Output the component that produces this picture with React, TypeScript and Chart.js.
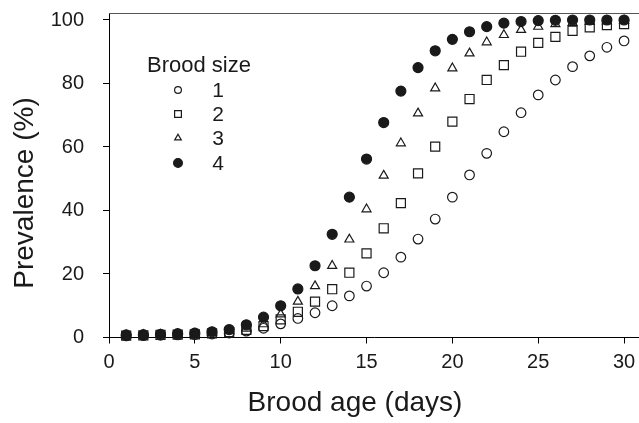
import React, { useEffect, useRef } from 'react';
import { Chart, registerables } from 'chart.js';

Chart.register(...registerables);

const days = [1, 2, 3, 4, 5, 6, 7, 8, 9, 10, 11, 12, 13, 14, 15, 16, 17, 18, 19, 20, 21, 22, 23, 24, 25, 26, 27, 28, 29, 30];

const brood1 = [0.5, 0.6, 0.7, 0.8, 0.9, 1.1, 1.4, 2.0, 2.9, 4.3, 6.0, 7.8, 10.0, 13.1, 16.2, 20.4, 25.3, 31.0, 37.3, 44.2, 51.2, 58.0, 64.8, 70.8, 76.4, 81.1, 85.3, 88.7, 91.4, 93.4];
const brood2 = [0.6, 0.7, 0.8, 0.9, 1.0, 1.3, 1.7, 2.4, 3.6, 5.7, 8.1, 11.3, 15.2, 20.4, 26.5, 34.4, 42.3, 51.7, 60.1, 68.0, 75.1, 81.1, 85.8, 90.0, 92.8, 94.7, 96.6, 97.7, 98.4, 98.7];
const brood3 = [0.7, 0.8, 0.9, 1.0, 1.2, 1.5, 2.0, 2.8, 4.2, 7.3, 11.3, 16.2, 22.6, 30.9, 40.4, 51.0, 61.2, 70.6, 78.5, 84.8, 89.5, 93.0, 95.3, 96.9, 97.9, 98.7, 99.1, 99.4, 99.6, 99.8];
const brood4 = [0.8, 0.9, 1.0, 1.2, 1.4, 1.8, 2.5, 4.0, 6.4, 10.0, 15.3, 22.6, 32.5, 44.2, 56.2, 67.7, 77.6, 85.0, 90.3, 93.9, 96.3, 97.9, 99.0, 99.5, 99.8, 99.9, 100, 100, 100, 100];

const seriesLabels = ['1', '2', '3', '4'];
const legendTitle = 'Brood size';
const xTitle = 'Brood age (days)';
const yTitle = 'Prevalence (%)';
const xTicks = [0, 5, 10, 15, 20, 25, 30];
const yTicks = [0, 20, 40, 60, 80, 100];

const FONT = '"Liberation Sans", Arial, Helvetica, sans-serif';
const INK = '#1a1a1a';

type Style = 'circle' | 'rect' | 'triangle';
const styles: Style[] = ['circle', 'rect', 'triangle', 'circle'];
const filled = [false, false, false, true];

function drawMarker(ctx: CanvasRenderingContext2D, style: Style, fill: boolean, x: number, y: number, r: number) {
  ctx.beginPath();
  if (style === 'circle') {
    ctx.arc(x, y, r, 0, Math.PI * 2);
  } else if (style === 'rect') {
    const s = r * Math.SQRT1_2;
    ctx.rect(x - s, y - s, 2 * s, 2 * s);
  } else {
    const h = r;
    ctx.moveTo(x, y - h);
    ctx.lineTo(x + h * Math.sin(Math.PI / 3), y + h / 2);
    ctx.lineTo(x - h * Math.sin(Math.PI / 3), y + h / 2);
    ctx.closePath();
  }
  if (fill) {
    ctx.fillStyle = INK;
    ctx.fill();
  }
  ctx.strokeStyle = INK;
  ctx.lineWidth = 1.2;
  ctx.stroke();
}

const decorPlugin = {
  id: 'decor',
  afterDraw(chart: any) {
    const ctx: CanvasRenderingContext2D = chart.ctx;
    const area = chart.chartArea;
    ctx.save();
    // top frame line
    ctx.strokeStyle = '#555';
    ctx.lineWidth = 1;
    ctx.beginPath();
    ctx.moveTo(area.left, Math.round(area.top) + 0.5);
    ctx.lineTo(chart.width, Math.round(area.top) + 0.5);
    ctx.stroke();

    // axis titles
    ctx.fillStyle = INK;
    ctx.textAlign = 'center';
    ctx.textBaseline = 'middle';
    ctx.font = `28px ${FONT}`;
    ctx.fillText(xTitle, 355, 403);
    ctx.save();
    ctx.translate(25, 193);
    ctx.rotate(-Math.PI / 2);
    ctx.fillText(yTitle, 0, 0);
    ctx.restore();

    // legend
    ctx.textAlign = 'left';
    ctx.font = `22px ${FONT}`;
    ctx.fillText(legendTitle, 147, 66);
    const ys = [90, 114, 138, 163];
    const rs = [3.4, 4.8, 3.8, 4.4];
    ctx.font = `21px ${FONT}`;
    for (let i = 0; i < 4; i++) {
      drawMarker(ctx, styles[i], filled[i], 178, ys[i], rs[i]);
      ctx.fillStyle = INK;
      ctx.textAlign = 'center';
      ctx.fillText(seriesLabels[i], 218, ys[i] + 1);
    }
    ctx.restore();
  },
};

export default function App() {
  const ref = useRef<HTMLCanvasElement>(null);
  useEffect(() => {
    document.body.style.margin = '0';
    const canvas = ref.current!;
    const series = [brood1, brood2, brood3, brood4];
    const radii = [4.8, 6.4, 5.2, 5.0];
    const chart = new Chart(canvas, {
      type: 'scatter',
      data: {
        datasets: series.map((vals, i) => ({
          label: seriesLabels[i],
          data: days.map((d, j) => ({ x: d, y: vals[j] })),
          pointStyle: styles[i],
          pointRadius: radii[i],
          pointBorderWidth: 1.2,
          pointBorderColor: INK,
          pointBackgroundColor: filled[i] ? INK : 'rgba(0,0,0,0)',
          showLine: false,
          clip: 8,
        })),
      },
      options: {
        responsive: false,
        animation: false,
        devicePixelRatio: 1,
        layout: { autoPadding: false, padding: { top: 13, left: 0, right: 0, bottom: 0 } },
        plugins: { legend: { display: false }, tooltip: { enabled: false } },
        scales: {
          x: {
            type: 'linear',
            min: 0,
            max: 30.87,
            afterBuildTicks: (s: any) => { s.ticks = xTicks.map((v) => ({ value: v })); },
            afterFit: (s: any) => { s.height = 85.5; s.paddingLeft = 0; s.paddingRight = 0; },
            ticks: { color: INK, font: { family: FONT, size: 20 }, padding: 7, maxRotation: 0 },
            grid: { display: true, drawOnChartArea: false, drawTicks: true, tickLength: 6, color: '#000' },
            border: { display: true, color: '#000', width: 1 },
          },
          y: {
            type: 'linear',
            min: 0,
            max: 102.2,
            afterBuildTicks: (s: any) => { s.ticks = yTicks.map((v) => ({ value: v })); },
            afterFit: (s: any) => { s.width = 109; s.paddingTop = 0; s.paddingBottom = 0; },
            ticks: { color: INK, font: { family: FONT, size: 20 }, padding: 19 },
            grid: { display: true, drawOnChartArea: false, drawTicks: true, tickLength: 6, color: '#000' },
            border: { display: true, color: '#000', width: 1 },
          },
        },
      },
      plugins: [decorPlugin],
    });
    return () => chart.destroy();
  }, []);
  return <canvas ref={ref} width={639} height={423} style={{ display: 'block', width: 639, height: 423 }} />;
}
